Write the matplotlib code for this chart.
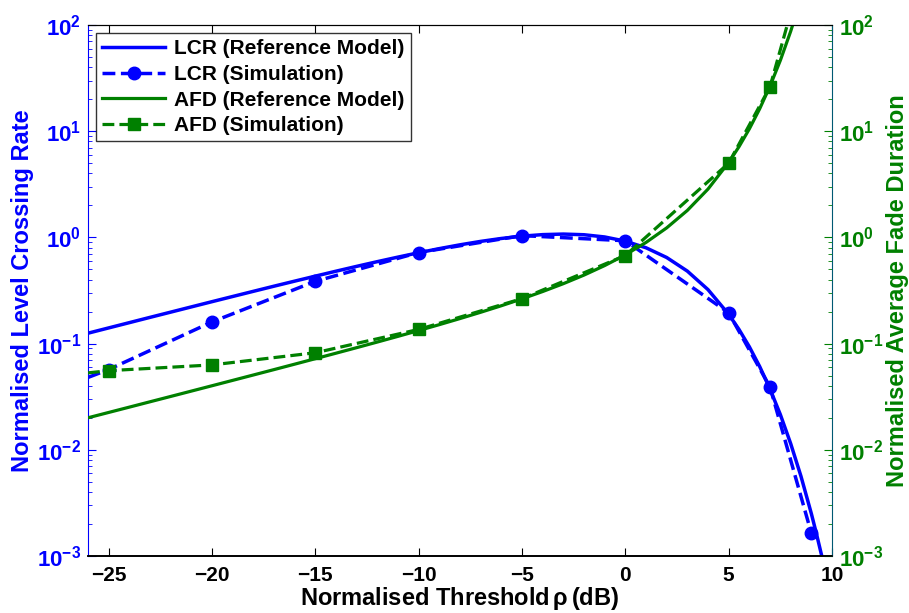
import matplotlib
matplotlib.use("Agg")
import matplotlib.pyplot as plt
from matplotlib.ticker import FixedLocator, LogLocator, NullFormatter

plt.rcParams['font.family'] = ['Liberation Sans', 'DejaVu Sans']
plt.rcParams['font.weight'] = 'bold'
plt.rcParams['mathtext.fontset'] = 'custom'
plt.rcParams['mathtext.rm'] = 'Liberation Sans:bold'
plt.rcParams['mathtext.bf'] = 'Liberation Sans:bold'
plt.rcParams['mathtext.it'] = 'Liberation Sans:bold'
plt.rcParams['axes.unicode_minus'] = True

# ---------------- data ----------------
ref_db = [-26, -25, -24, -23, -22, -21, -20, -19, -18, -17, -16, -15, -14, -13,
          -12, -11, -10, -9, -8, -7, -6, -5, -4, -3, -2, -1, 0, 1, 2, 3, 4,
          5, 5.5, 6, 6.5, 7, 7.5, 8, 8.5, 9, 9.25, 9.5, 9.6]
lcr_ref = [0.1253, 0.1405, 0.1575, 0.1766, 0.1978, 0.2216, 0.2482, 0.2777,
           0.3106, 0.3472, 0.3874, 0.4318, 0.4806, 0.5338, 0.5912, 0.6524,
           0.7172, 0.7841, 0.8516, 0.9172, 0.9772, 1.0273, 1.0622, 1.0750,
           1.0594, 1.0096, 0.9221, 0.7987, 0.6468, 0.4815, 0.3223, 0.1887,
           0.1359, 0.09334, 0.06084, 0.03734, 0.02147, 0.01144, 0.005617,
           0.002507, 0.001612, 0.001008, 0.000829]
afd_db = [-26, -25, -24, -23, -22, -21, -20, -19, -18, -17, -16, -15, -14, -13,
          -12, -11, -10, -9, -8, -7, -6, -5, -4, -3, -2, -1, 0, 1, 2, 3, 4,
          5, 5.5, 6, 6.5, 7, 7.5, 8, 8.5, 9]
afd_ref = [0.02002, 0.02247, 0.02522, 0.02832, 0.03179, 0.03570, 0.04010,
           0.04505, 0.05062, 0.05690, 0.06402, 0.07209, 0.08122, 0.09158,
           0.10344, 0.11704, 0.13269, 0.15085, 0.17211, 0.19722, 0.22730,
           0.26391, 0.30920, 0.36670, 0.44167, 0.54293, 0.68552, 0.89652,
           1.22924, 1.79467, 2.8518, 5.0758, 7.148, 10.513, 16.249, 26.59,
           46.40, 87.18, 177.9, 398.7]

sim_db = [-26, -25, -20, -15, -10, -5, 0, 5, 7, 9]
lcr_sim = [0.048, 0.057, 0.16, 0.386, 0.72, 1.04, 0.93, 0.195, 0.039, 0.00164]
afd_sim = [0.053, 0.0556, 0.063, 0.082, 0.136, 0.265, 0.675, 5.0, 26.2, 650.0]

x_ticks = [-25, -20, -15, -10, -5, 0, 5, 10]
y_ticks = [1e-3, 1e-2, 1e-1, 1e0, 1e1, 1e2]
y_ticklabels = [r'$10^{-3}$', r'$10^{-2}$', r'$10^{-1}$', r'$10^{0}$', r'$10^{1}$', r'$10^{2}$']

BLUE = (0, 0, 1)
GREEN = (0, 0.5, 0)

fig = plt.figure(figsize=(9.09, 6.13), dpi=100)
ax1 = fig.add_axes([0.0968, 0.093, 0.8185, 0.8662])
ax2 = ax1.twinx()

h1, = ax1.plot(ref_db, lcr_ref, '-', color=BLUE, lw=2.5, label='LCR (Reference Model)')
h2, = ax1.plot(sim_db, lcr_sim, '--', color=BLUE, lw=2.5, marker='o', ms=9,
               markevery=list(range(1, len(sim_db))), label='LCR (Simulation)')
h3, = ax2.plot(afd_db, afd_ref, '-', color=GREEN, lw=2.3, label='AFD (Reference Model)')
h4, = ax2.plot(sim_db, afd_sim, '--', color=GREEN, lw=2.3, marker='s', ms=8,
               markevery=list(range(1, len(sim_db))), label='AFD (Simulation)')

for ax in (ax1, ax2):
    ax.set_yscale('log')
    ax.set_ylim(1e-3, 1e2)
    ax.set_xlim(-26, 10)

ax1.set_xticks(x_ticks)
ax1.set_xticklabels([str(v).replace('-', '\u2212') for v in x_ticks], fontsize=15, fontweight='bold')
ax1.tick_params(axis='x', direction='in', top=True, length=6, width=0.8, pad=7, colors='black')

ax1.yaxis.set_major_locator(FixedLocator(y_ticks))
ax1.set_yticklabels(y_ticklabels, fontsize=16, color=BLUE)
ax1.yaxis.set_minor_locator(LogLocator(base=10, subs=range(2, 10), numticks=20))
ax1.yaxis.set_minor_formatter(NullFormatter())
ax1.tick_params(axis='y', which='major', direction='in', length=6, colors=BLUE, pad=5)
ax1.tick_params(axis='y', which='minor', direction='in', length=3, colors=BLUE)

ax2.yaxis.set_major_locator(FixedLocator(y_ticks))
ax2.set_yticklabels(y_ticklabels, fontsize=16, color=GREEN)
ax2.yaxis.set_minor_locator(LogLocator(base=10, subs=range(2, 10), numticks=20))
ax2.yaxis.set_minor_formatter(NullFormatter())
ax2.tick_params(axis='y', which='major', direction='in', length=6, colors=GREEN, pad=5)
ax2.tick_params(axis='y', which='minor', direction='in', length=3, colors=GREEN)

ax1.spines['left'].set_color(BLUE)
ax1.spines['right'].set_visible(False)
ax2.spines['left'].set_visible(False)
ax2.spines['right'].set_color((0.0, 0.35, 0.45))
for ax in (ax1, ax2):
    ax.spines['top'].set_color('black')
    ax.spines['bottom'].set_color('black')
    ax.spines['bottom'].set_linewidth(1.2)

ax1.set_xlabel(r'Normalised Threshold$\,\rho\,$(dB)', fontsize=17, fontweight='bold', labelpad=0)
ax1.set_ylabel('Normalised Level Crossing Rate', fontsize=17, fontweight='bold', color=BLUE, labelpad=2)
ax2.set_ylabel('Normalised Average Fade Duration', fontsize=17, fontweight='bold', color=GREEN, labelpad=2)

leg = ax2.legend(handles=[h1, h2, h3, h4], loc='upper left', bbox_to_anchor=(0.011, 0.985),
                 fontsize=15, frameon=True, fancybox=False, edgecolor='black',
                 handlelength=3.0, handletextpad=0.45, borderpad=0.3, labelspacing=0.32,
                 borderaxespad=0.0)
leg.get_frame().set_linewidth(1.0)
for t in leg.get_texts():
    t.set_fontweight('bold')

fig.savefig('out.png', dpi=100)
